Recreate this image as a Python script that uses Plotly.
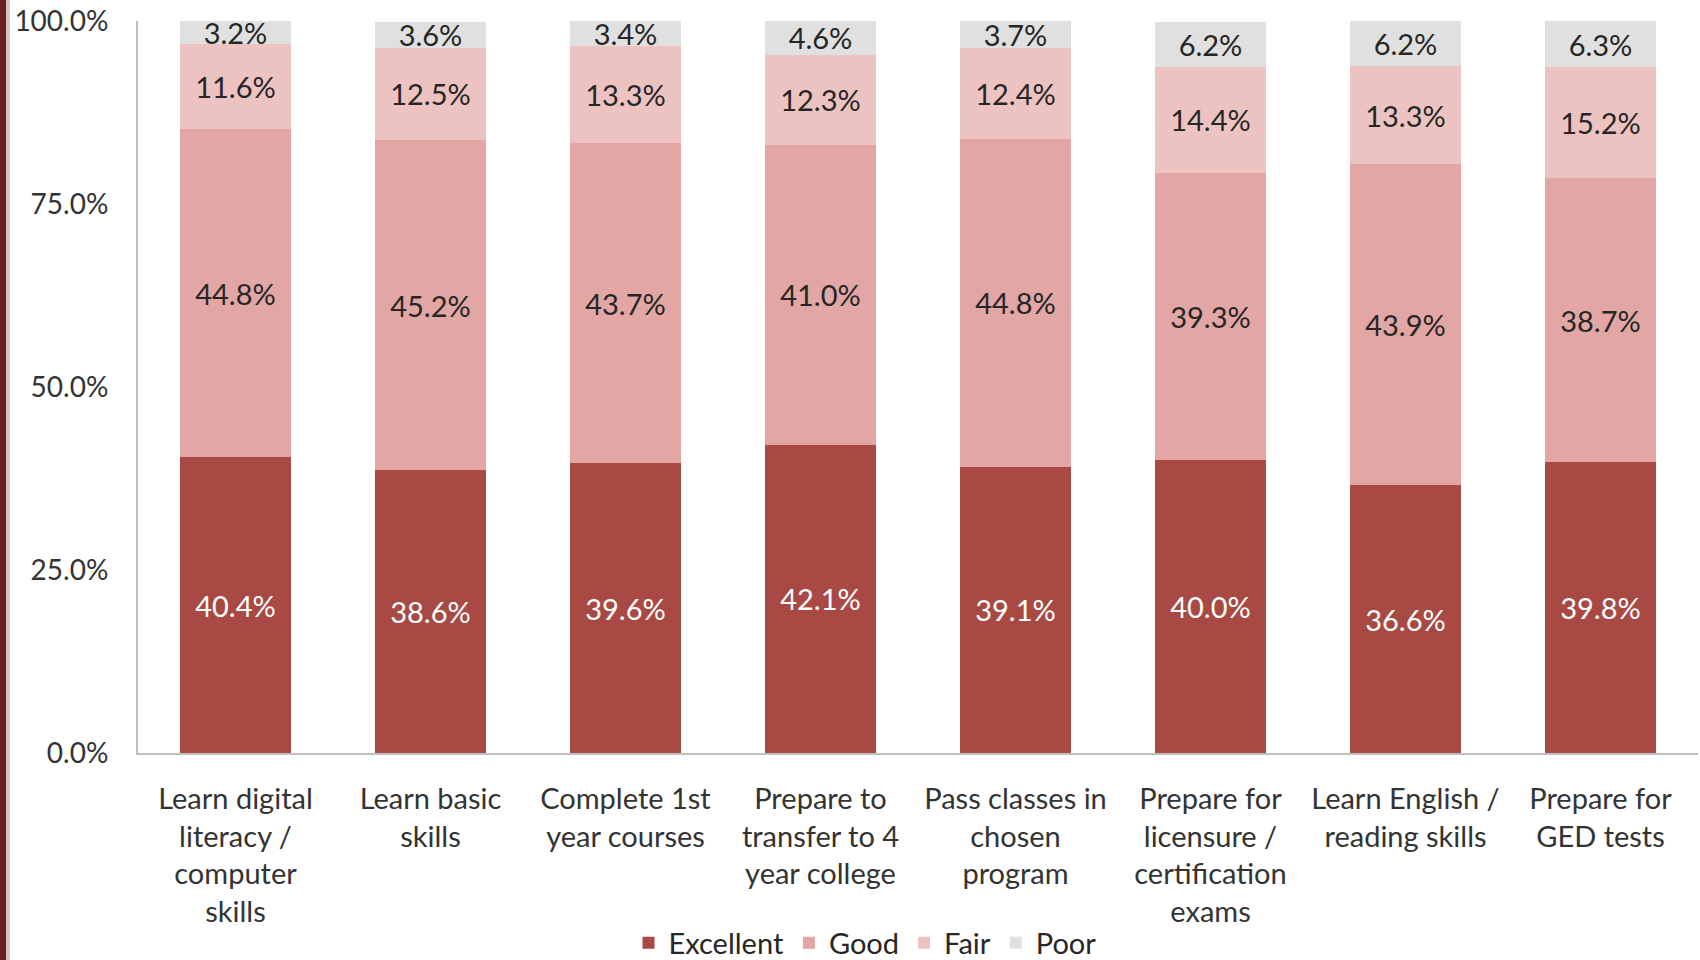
import plotly.graph_objects as go

categories = [
    "Learn digital<br>literacy /<br>computer<br>skills",
    "Learn basic<br>skills",
    "Complete 1st<br>year courses",
    "Prepare to<br>transfer to 4<br>year college",
    "Pass classes in<br>chosen<br>program",
    "Prepare for<br>licensure /<br>certification<br>exams",
    "Learn English /<br>reading skills",
    "Prepare for<br>GED tests",
]
excellent = [40.4, 38.6, 39.6, 42.1, 39.1, 40.0, 36.6, 39.8]
good = [44.8, 45.2, 43.7, 41.0, 44.8, 39.3, 43.9, 38.7]
fair = [11.6, 12.5, 13.3, 12.3, 12.4, 14.4, 13.3, 15.2]
poor = [3.2, 3.6, 3.4, 4.6, 3.7, 6.2, 6.2, 6.3]

series_names = ["Excellent", "Good", "Fair", "Poor"]
series_values = [excellent, good, fair, poor]
series_colors = ["#A84944", "#E2A6A4", "#EDC3C2", "#E0E0E0"]
label_colors = ["#FFFFFF", "#262626", "#262626", "#262626"]

y_tickvals = [0, 25, 50, 75, 100]
y_ticktext = ["0.0%", "25.0%", "50.0%", "75.0%", "100.0%"]

FONT = "Lato, Open Sans, sans-serif"
FS = 29

fig = go.Figure()
for name, vals, col, lc in zip(series_names, series_values, series_colors, label_colors):
    fig.add_trace(go.Bar(
        name=name,
        x=categories,
        y=vals,
        marker=dict(color=col, line=dict(width=0)),
        text=[f"{v:.1f}%" for v in vals],
        textposition="inside",
        insidetextanchor="middle",
        constraintext="none",
        textangle=0,
        textfont=dict(family=FONT, size=FS, color=lc),
        cliponaxis=False,
        hoverinfo="skip",
    ))

W, H = 1700, 960
L, R, T, B = 138, 2, 21, 207
pw = W - L - R
ph = H - T - B

fig.update_layout(
    width=W, height=H,
    barmode="stack",
    bargap=0.435,
    plot_bgcolor="white",
    paper_bgcolor="white",
    margin=dict(l=L, r=R, t=T, b=B, pad=0, autoexpand=False),
    font=dict(family=FONT, size=FS, color="#333333"),
    uniformtext=dict(mode="show", minsize=FS),
    showlegend=True,
    legend=dict(
        orientation="h",
        x=(865 - L) / pw,
        xanchor="center",
        y=(T + ph - 943) / ph,
        yanchor="middle",
        font=dict(family=FONT, size=FS, color="#262626"),
        itemwidth=30,
        tracegroupgap=0,
        traceorder="normal",
    ),
    xaxis=dict(
        type="category",
        automargin=False,
        showgrid=False,
        showline=True,
        linecolor="#BFBFBF",
        linewidth=2,
        ticks="",
        ticklabelstandoff=19,
        tickfont=dict(family=FONT, size=FS, color="#333333"),
        range=[-0.5, 7.5],
    ),
    yaxis=dict(
        automargin=False,
        range=[0, 100.01],
        tickvals=y_tickvals,
        ticktext=y_ticktext,
        showgrid=False,
        zeroline=False,
        showline=True,
        linecolor="#BFBFBF",
        linewidth=2,
        ticks="",
        ticklabelstandoff=22,
        tickfont=dict(family=FONT, size=FS - 1, color="#333333"),
    ),
    shapes=[
        dict(type="rect", xref="paper", yref="paper",
             x0=(0 - L) / pw, x1=(6 - L) / pw,
             y0=(T + ph - H) / ph, y1=(T + ph) / ph,
             fillcolor="#6B1F22", line=dict(width=0), layer="above"),
        dict(type="rect", xref="paper", yref="paper",
             x0=(6 - L) / pw, x1=(10 - L) / pw,
             y0=(T + ph - H) / ph, y1=(T + ph) / ph,
             fillcolor="#D0C8C8", line=dict(width=0), layer="above"),
    ],
)

fig.write_html(
    "out.html",
    config={"displayModeBar": False},
    post_script="document.body.style.margin='0';document.body.style.overflow='hidden';",
)
